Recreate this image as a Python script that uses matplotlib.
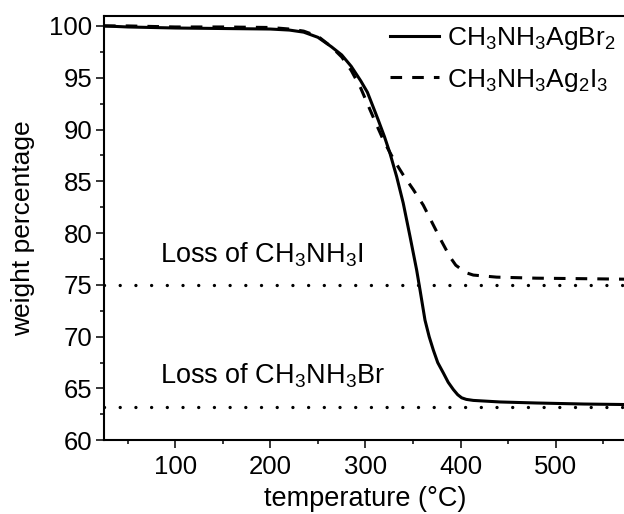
import matplotlib
matplotlib.use("Agg")
import matplotlib.pyplot as plt
from matplotlib.ticker import MultipleLocator

plt.rcParams['font.family'] = ['Liberation Sans', 'DejaVu Sans']
plt.rcParams['mathtext.default'] = 'regular'
plt.rcParams['font.size'] = 18

# TGA curves: temperature (°C) vs remaining weight (%)
temp_br = [25, 50, 100, 150, 200, 220, 235, 250, 264, 275, 285, 295, 302, 308,
           313.5, 320, 325.8, 332.8, 339.7, 346.8, 353.8, 357.4, 362.6, 367,
           371.4, 376, 381.9, 387, 392.4, 397, 401.2, 406, 413.4, 441.5, 480,
           530, 575]
weight_br = [100.0, 99.9, 99.8, 99.75, 99.7, 99.6, 99.4, 98.9, 98.0, 97.2, 96.1,
             94.7, 93.6, 92.2, 90.9, 89.3, 87.7, 85.45, 82.9, 79.7, 76.45, 74.5,
             71.6, 70.0, 68.7, 67.5, 66.5, 65.6, 64.9, 64.4, 64.1, 63.95, 63.85,
             63.7, 63.6, 63.5, 63.45]

temp_i = [25, 50, 100, 150, 200, 220, 235, 250, 264, 275, 285, 295, 302, 310,
          318.7, 325, 331, 339.8, 350.3, 360.8, 369.6, 380.1, 388.9, 395, 399.4,
          405, 413.4, 438, 480, 530, 575]
weight_i = [100.0, 100.0, 99.9, 99.9, 99.85, 99.7, 99.5, 99.0, 98.0, 97.0, 95.7,
            94.0, 92.5, 90.8, 89.0, 87.9, 86.9, 85.6, 84.2, 82.7, 81.1, 79.2, 77.7,
            76.9, 76.6, 76.2, 75.95, 75.75, 75.65, 75.6, 75.55]

series_labels = ['CH$_3$NH$_3$AgBr$_2$', 'CH$_3$NH$_3$Ag$_2$I$_3$']

# theoretical residues after loss of the organic halide
loss_levels = [75.0, 63.2]
loss_labels = ['Loss of CH$_3$NH$_3$I', 'Loss of CH$_3$NH$_3$Br']
loss_label_pos = [(84, 77.15), (84, 65.5)]

x_ticks = [100, 200, 300, 400, 500]
y_ticks = [60, 65, 70, 75, 80, 85, 90, 95, 100]

fig = plt.figure(figsize=(6.24, 5.14), dpi=100)
ax = fig.add_axes([0.1667, 0.1434, 0.838, 0.8263])

ax.plot(temp_br, weight_br, color='black', lw=2.2, label=series_labels[0])
ax.plot(temp_i, weight_i, color='black', lw=2.2, linestyle=(0, (3.8, 3.3)),
        label=series_labels[1])

for lvl in loss_levels:
    ax.axhline(lvl, color='black', lw=2.4, linestyle=(0, (0.01, 4.7)),
               dash_capstyle='round')

for txt, (tx, ty) in zip(loss_labels, loss_label_pos):
    ax.text(tx, ty, txt, ha='left', va='baseline', fontsize=19.5)

ax.set_xlim(25, 575)
ax.set_ylim(60, 101)
ax.set_xticks(x_ticks)
ax.set_yticks(y_ticks)
ax.xaxis.set_minor_locator(MultipleLocator(50))
ax.yaxis.set_minor_locator(MultipleLocator(2.5))
ax.tick_params(which='major', direction='out', length=5.5, width=1.1,
               labelsize=18.5, pad=3)
ax.tick_params(axis='x', which='major', pad=5)
ax.tick_params(which='minor', direction='out', length=3, width=1.1)
for sp in ax.spines.values():
    sp.set_linewidth(1.5)

ax.set_xlabel('temperature (°C)', fontsize=19.5, labelpad=5)
ax.set_ylabel('weight percentage', fontsize=19, labelpad=10)

ax.legend(loc='upper left', bbox_to_anchor=(390 / 624, 1 - 25 / 514),
          bbox_transform=fig.transFigure, frameon=False, borderpad=0,
          borderaxespad=0, handlelength=1.85, handletextpad=0.3,
          labelspacing=0.55, fontsize=19)

fig.savefig('out.png', dpi=100)
